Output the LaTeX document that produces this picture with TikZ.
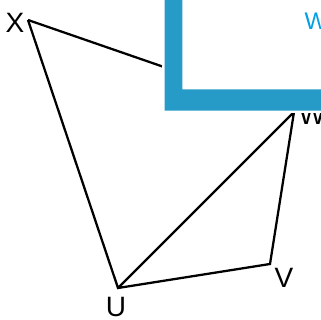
\documentclass[tikz,border=0pt]{standalone}
\usepackage{fontspec}
\setmainfont{Liberation Sans}
\usetikzlibrary{calc}
\definecolor{barblue}{RGB}{38,155,199}
\definecolor{wblue}{RGB}{0,160,227}

\begin{document}
\begin{tikzpicture}[x=0.75pt, y=-0.75pt, line width=1.7pt,
  lbl/.style={font=\fontsize{21}{21}\selectfont, inner sep=0pt},
  cover/.style={fill=white, draw=white, line width=3.75pt}]

  \useasboundingbox (0,0) rectangle (321,320);
  \clip (0,0) rectangle (321,320);

  % =========== 四边形 XUVW 与对角线 ===========
  \coordinate (X) at (28,20);    % 左上顶点
  \coordinate (U) at (118,288);  % 下方顶点
  \coordinate (V) at (270,264);  % 右下顶点
  \coordinate (W) at (294,112);  % 右上顶点 (被蓝框遮住)

  \draw[line join=miter] (X) -- (U) -- (V) -- (W) -- (U);
  \draw (X) -- (W);

  % 顶点字母
  \node[lbl] (Xl) at (15,23) {X};
  \node[lbl] (Ul) at (116,307) {U};
  \node[lbl] (Vl) at (284,278) {V};
  \node[lbl] (Wl) at (312,115) {W};

  % =========== 白色遮挡框 + 蓝色 L 形边 ===========
  \path[cover] (164.7,-5) rectangle (330,110.7);
  \fill[barblue] (164.7,-5) -- (182.3,-5) -- (182.3,89.3) -- (330,89.3)
    -- (330,110.7) -- (164.7,110.7) -- cycle;

  % 右上角蓝字
  \node[font=\fontsize{18}{18}\selectfont, text=wblue, inner sep=0pt] (wb) at (316,21.5) {W};

\end{tikzpicture}
\end{document}
